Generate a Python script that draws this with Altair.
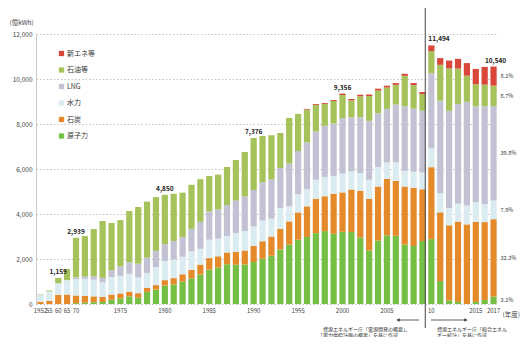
import altair as alt
import pandas as pd

FONT = "Noto Sans CJK JP"

# fiscal years (categorical x)
years = ["1952", "1955", "1960", "1965"] + [str(y) for y in range(1970, 2018)]

# 億kWh by source
nuclear = [0, 0, 0, 0,
           40, 60, 80, 90, 190, 250, 340, 280, 540, 640,
           820, 870, 1000, 1140, 1310, 1530, 1620, 1770, 1750, 1760,
           1870, 2010, 2140, 2420, 2640, 2860, 2980, 3150, 3240, 3120,
           3210, 3200, 2950, 2380, 2820, 3050, 3030, 2640, 2580, 2800,
           2882, 1018, 159, 93, 0, 94, 181, 329]
coal = [100, 140, 400, 420,
        340, 300, 260, 230, 230, 220, 200, 200, 180, 200,
        240, 280, 320, 380, 440, 510, 500, 520, 560, 620,
        720, 780, 860, 930, 1030, 1210, 1360, 1530, 1550, 1770,
        1750, 1890, 2080, 2290, 2400, 2510, 2440, 2580, 2580, 2300,
        3199, 3058, 3340, 3572, 3539, 3560, 3459, 3440]
hydro = [320, 420, 520, 640,
         720, 760, 740, 640, 780, 780, 800, 700, 660, 800,
         850, 830, 780, 820, 700, 820, 780, 730, 840, 860,
         860, 920, 790, 920, 670, 800, 760, 840, 860, 800,
         830, 800, 790, 850, 870, 730, 820, 700, 720, 740,
         838, 849, 765, 794, 835, 871, 795, 830]
lng = [0, 0, 0, 0,
       90, 110, 150, 200, 300, 420, 520, 610, 680, 720,
       750, 820, 880, 1000, 1200, 1250, 1300, 1380, 1450, 1540,
       1620, 1700, 1740, 1780, 1900, 1930, 2080, 2150, 2270, 2330,
       2470, 2400, 2480, 2620, 2390, 2380, 2580, 2870, 2800, 2750,
       3339, 4113, 4320, 4432, 4614, 4257, 4354, 4190]
oil = [20, 40, 240, 490,
       1750, 1790, 2100, 2530, 2100, 2060, 2270, 2520, 2490, 2390,
       2190, 2100, 1970, 1960, 1900, 1580, 1550, 1690, 1800, 1980,
       2306, 2060, 1970, 1550, 2030, 1650, 1460, 1180, 970, 1000,
       1030, 760, 930, 1100, 1010, 950, 870, 1350, 1050, 740,
       983, 1592, 1885, 1574, 1158, 984, 960, 915]
renew = [0, 0, 0, 0,
         0, 0, 0, 0, 0, 0, 0, 0, 0, 0,
         0, 0, 0, 0, 0, 0, 0, 0, 0, 0,
         0, 0, 0, 0, 0, 0, 30, 40, 40, 45,
         60, 60, 70, 70, 80, 80, 80, 90, 90, 90,
         250, 300, 350, 430, 560, 680, 790, 850]

sources = ["原子力", "石炭", "水力", "LNG", "石油等", "新エネ等"]
legend_order = ["新エネ等", "石油等", "LNG", "水力", "石炭", "原子力"]
colors = ["#d8473a", "#a6c25a", "#c3c2d5", "#dbecf1", "#e48a2a", "#74bf44"]

# total labels
label_years = ["1960", "1970", "1980", "1990", "2000", "2010", "2017"]
label_text = ["1,159", "2,939", "4,850", "7,376", "9,356", "11,494", "10,540"]

# 2017 share labels (bottom to top)
pct_text = ["3.1%", "32.3%", "7.9%", "39.8%", "8.7%", "8.1%"]

short_labels = {"1955": "55", "1960": "60", "1965": "65", "1970": "70", "2010": "10"}
shown_years = ["1952", "1955", "1960", "1965", "1970", "1975", "1980", "1985",
               "1990", "1995", "2000", "2005", "2010", "2015", "2017"]

series = [nuclear, coal, hydro, lng, oil, renew]
rows = []
for k, (name, vals) in enumerate(zip(sources, series)):
    for y, v in zip(years, vals):
        rows.append({"year": y, "source": name, "value": v, "ord": k})
df = pd.DataFrame(rows)

totals = {y: sum(s[i] for s in series) for i, y in enumerate(years)}
lab_df = pd.DataFrame({"year": label_years, "text": label_text,
                       "total": [totals[y] for y in label_years]})

i17 = years.index("2017")
cum = 0
pct_rows = []
for name, vals, t in zip(sources, series, pct_text):
    v = vals[i17]
    pct_rows.append({"year": "2017", "mid": cum + v / 2, "text": t})
    cum += v
pct_df = pd.DataFrame(pct_rows)

expr = "datum.value"
for k, v in short_labels.items():
    expr = f"datum.value == '{k}' ? '{v}' : ({expr})"

xscale = alt.Scale(domain=years, paddingInner=0.3, paddingOuter=0.15)
yscale = alt.Scale(domain=[0, 12000])

bars = alt.Chart(df).mark_bar().encode(
    x=alt.X("year:O", scale=xscale, sort=years,
            axis=alt.Axis(values=shown_years, labelExpr=expr, labelAngle=0,
                          labelOverlap=False, ticks=False, domain=False,
                          labelFontSize=6, labelColor="#444", labelPadding=3,
                          title="(年度)", titleFontSize=6.5, titleFontWeight="normal",
                          titleColor="#444", titleX=466, titleY=10, titleAlign="left",
                          titleBaseline="middle", labelFont=FONT, titleFont=FONT)),
    y=alt.Y("value:Q", stack="zero", scale=yscale,
            axis=alt.Axis(values=list(range(0, 12001, 2000)),
                          labelExpr="format(datum.value, ',')",
                          labelFontSize=6.5, labelColor="#444", labelPadding=4,
                          ticks=False, domainColor="#bbb", domainWidth=0.8,
                          grid=True, gridDash=[1.5, 2], gridColor="#aaa", gridWidth=0.7,
                          title="(億kWh)", titleAngle=0, titleX=-27, titleY=-12,
                          titleAlign="left", titleBaseline="middle",
                          titleFontSize=6.5, titleFontWeight="normal", titleColor="#444",
                          labelFont=FONT, titleFont=FONT)),
    color=alt.Color("source:N", scale=alt.Scale(domain=legend_order, range=colors),
                    legend=alt.Legend(orient="none", legendX=22, legendY=16, title=None,
                                      symbolType="square", symbolSize=28,
                                      symbolStrokeWidth=0, labelFontSize=7,
                                      labelColor="#333", rowPadding=8.5, labelOffset=2,
                                      padding=0, labelFont=FONT)),
    order=alt.Order("ord:Q", sort="ascending"),
)

lab_left = alt.Chart(lab_df).transform_filter(
    "datum.year != '2010' && datum.year != '2017'"
).mark_text(font=FONT, fontSize=6.5, fontWeight="bold", color="#222",
            baseline="bottom", dy=-3).encode(
    x=alt.X("year:O", scale=xscale, sort=years), y=alt.Y("total:Q", scale=yscale),
    text="text:N")
lab_2010 = alt.Chart(lab_df).transform_filter("datum.year == '2010'").mark_text(
    font=FONT, fontSize=6.5, fontWeight="bold", color="#222",
    baseline="bottom", align="left", dy=-3, dx=-3).encode(
    x=alt.X("year:O", scale=xscale, sort=years), y=alt.Y("total:Q", scale=yscale),
    text="text:N")
lab_2017 = alt.Chart(lab_df).transform_filter("datum.year == '2017'").mark_text(
    font=FONT, fontSize=6.5, fontWeight="bold", color="#222",
    baseline="bottom", dy=-3, dx=2).encode(
    x=alt.X("year:O", scale=xscale, sort=years), y=alt.Y("total:Q", scale=yscale),
    text="text:N")

pct = alt.Chart(pct_df).mark_text(font=FONT, fontSize=5.5, color="#333",
                                  align="left", dx=7).encode(
    x=alt.X("year:O", scale=xscale, sort=years), y=alt.Y("mid:Q", scale=yscale),
    text="text:N")

divider = alt.Chart(pd.DataFrame({"year": ["2010"]})).mark_rule(
    color="#444", strokeWidth=1, xOffset=-3).encode(
    x=alt.X("year:O", scale=xscale, sort=years, bandPosition=0),
    y=alt.value(-31), y2=alt.value(294))

arrow_l = alt.Chart(pd.DataFrame({"a": [0]})).mark_rule(color="#333", strokeWidth=0.8).encode(
    x=alt.value(362), x2=alt.value(383), y=alt.value(286))
arrow_r = alt.Chart(pd.DataFrame({"a": [0]})).mark_rule(color="#333", strokeWidth=0.8).encode(
    x=alt.value(395), x2=alt.value(430), y=alt.value(286))
head_l = alt.Chart(pd.DataFrame({"a": [0]})).mark_point(
    shape="triangle-left", filled=True, color="#333", size=14, opacity=1).encode(
    x=alt.value(362), y=alt.value(286))
head_r = alt.Chart(pd.DataFrame({"a": [0]})).mark_point(
    shape="triangle-right", filled=True, color="#333", size=14, opacity=1).encode(
    x=alt.value(430), y=alt.value(286))

notes = pd.DataFrame({
    "t": ["資源エネルギー庁「電源開発の概要」、", "「電力供給計画の概要」を基に作成",
          "資源エネルギー庁「総合エネル", "ギー統計」を基に作成"],
    "px": [287, 282, 401, 401],
    "py": [294.5, 300.5, 294.5, 300.5],
})
note_txt = alt.Chart(notes).mark_text(font=FONT, fontSize=5, color="#333",
                                      align="left").encode(
    x=alt.X("px:Q", scale=None), y=alt.Y("py:Q", scale=None), text="t:N")

chart = alt.layer(bars, lab_left, lab_2010, lab_2017, pct, divider,
                  arrow_l, arrow_r, head_l, head_r, note_txt).properties(
    width=462, height=270,
    padding={"left": 28, "top": 26, "right": 22, "bottom": 33},
    autosize=alt.AutoSizeParams(type="none"),
    background="white",
).configure_view(stroke=None).configure_text(font=FONT)

chart.save("out.html", embed_options={"renderer": "svg", "actions": False})
